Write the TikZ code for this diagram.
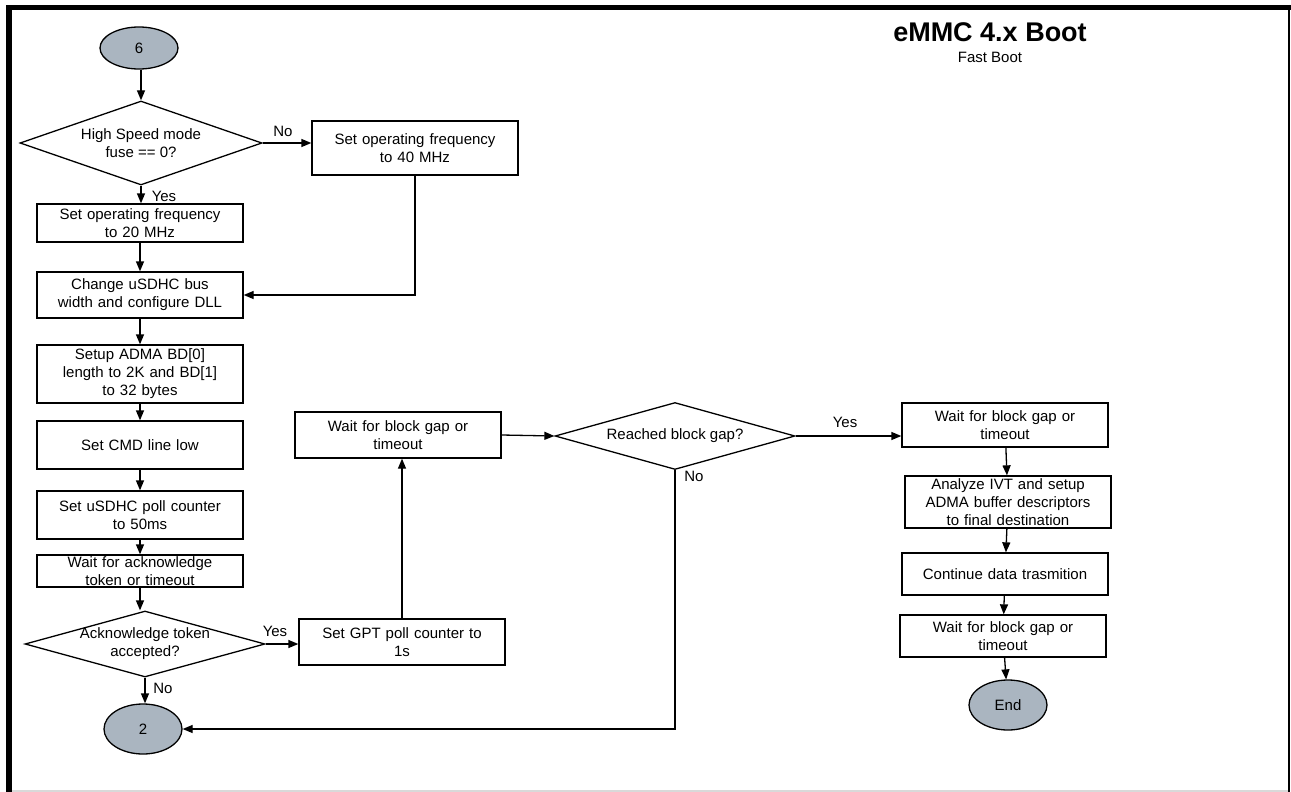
\documentclass[tikz,border=0pt]{standalone}
\usepackage{fontspec}
\setmainfont{Liberation Sans}
\usetikzlibrary{arrows.meta,shapes.geometric}
\definecolor{termfill}{RGB}{170,181,192}
\begin{document}
\begin{tikzpicture}[x=1pt,y=-1pt,
 every node/.style={font=\fontsize{15}{18}\selectfont},
 proc/.style={draw,line width=1.3pt,rectangle,minimum width=206pt,text width=200pt,align=center,inner sep=0pt},
 term/.style={draw,line width=1.3pt,ellipse,fill=termfill,minimum width=78pt,minimum height=50pt,inner sep=0pt},
 dec/.style={draw,line width=1.3pt,diamond,inner sep=0pt},
 dtext/.style={align=center,inner sep=0pt},
 arr/.style={line width=1.3pt,-{Triangle[length=10pt,width=8pt]}},
 ln/.style={line width=1.3pt}]
\useasboundingbox (0,0) rectangle (1291,792);
% frame
\draw[line width=6pt] (9,792) -- (9,7.5);
\draw[line width=5pt] (6,7.5) -- (1291,7.5);
\draw[line width=2pt] (1289,5) -- (1289,792);
\draw[line width=1.5pt,black!15] (12,791) -- (1288,791);
% title
\node (title) at (990,32) {\fontsize{27}{30}\selectfont\bfseries eMMC 4.x Boot};
\node (subtitle) at (990,57) {\fontsize{15}{17}\selectfont Fast Boot};
% left column
\node[term,minimum height=42pt] (e6) at (139,48) {6};
\node[dec,minimum width=242pt,minimum height=84pt] (d1) at (141,143) {};
\node[dtext] (d1t) at (d1.center) {High Speed mode\\fuse == 0?};
\node[proc,minimum height=54pt] (b40) at (415,148) {Set operating frequency\\to 40 MHz};
\node[proc,minimum height=38pt] (b20) at (140,223) {Set operating frequency\\to 20 MHz};
\node[proc,minimum height=46pt] (bdll) at (140,295) {Change uSDHC bus\\width and configure DLL};
\node[proc,minimum height=58pt] (badma) at (140,374) {Setup ADMA BD[0]\\length to 2K and BD[1]\\to 32 bytes};
\node[proc,minimum height=48pt] (bcmd) at (140,445) {Set CMD line low};
\node[proc,minimum height=48pt] (bpoll) at (140,515) {Set uSDHC poll counter\\to 50ms};
\node[proc,minimum height=32pt] (backw) at (140,571) {Wait for acknowledge\\token or timeout};
\node[dec,minimum width=240pt,minimum height=66pt] (d2) at (145,644) {};
\node[dtext] (d2t) at (d2.center) {Acknowledge token\\accepted?};
\node[term] (e2) at (143,729) {2};
% middle
\node[proc,minimum height=46pt] (bgpt) at (402,642) {Set GPT poll counter to\\1s};
\node[proc,minimum height=46pt] (bw1) at (398,435) {Wait for block gap or\\timeout};
\node[dec,minimum width=240pt,minimum height=67pt] (d3) at (675,436) {};
\node[dtext] (d3t) at (d3.center) {Reached block gap?};
% right column
\node[proc,minimum height=44pt] (bw2) at (1005,425) {Wait for block gap or\\timeout};
\node[proc,minimum height=52pt] (bivt) at (1008,502) {Analyze IVT and setup\\ADMA buffer descriptors\\to final destination};
\node[proc,minimum height=42pt] (bcont) at (1005,574) {Continue data trasmition};
\node[proc,minimum height=42pt] (bw3) at (1003,636) {Wait for block gap or\\timeout};
\node[term] (eend) at (1008,705) {End};
% connectors
\draw[arr] (e6.south -| d1.north) -- (d1.north);
\draw[arr] (d1.east) -- (b40.west |- d1.east);
\draw[arr] (d1.south) -- (d1.south |- b20.north);
\draw[arr] (b20) -- (bdll);
\draw[arr] (b40.south) |- (bdll.east);
\draw[arr] (bdll) -- (badma);
\draw[arr] (badma) -- (bcmd);
\draw[arr] (bcmd) -- (bpoll);
\draw[arr] (bpoll) -- (backw);
\draw[arr] (backw.south) -- (backw.south |- d2.north);
\draw[arr] (d2.east) -- (bgpt.west |- d2.east);
\draw[arr] (d2.south) -- (d2.south |- e2.north);
\draw[arr] (bgpt.north) -- (bgpt.north |- bw1.south);
\draw[arr] (bw1.east) -- (d3.west);
\draw[arr] (d3.east) -- (bw2.west |- d3.east);
\draw[arr] (d3.south) |- (e2.east);
\draw[arr] (bw2) -- (bivt);
\draw[arr] (bivt) -- (bcont);
\draw[arr] (bcont) -- (bw3);
\draw[arr] (bw3) -- (eend);
% labels
\node (l1) at (283,131) {No};
\node (l2) at (164,196) {Yes};
\node (l3) at (275,631) {Yes};
\node (l4) at (163,688) {No};
\node (l5) at (694,476) {No};
\node (l6) at (845,422) {Yes};
\end{tikzpicture}
\end{document}
